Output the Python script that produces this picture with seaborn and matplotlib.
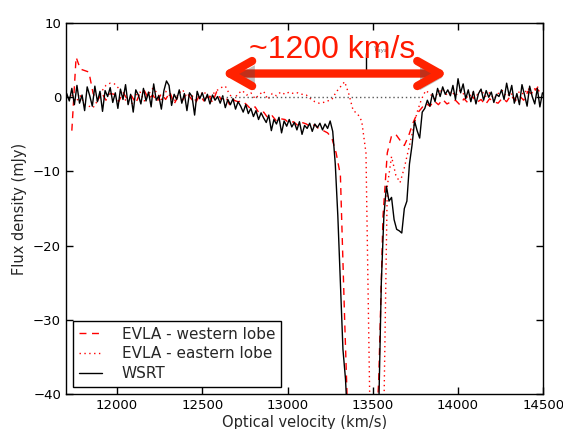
import numpy as np
import pandas as pd
import matplotlib
matplotlib.use('Agg')
import matplotlib.pyplot as plt
import matplotlib.patheffects as pe
import seaborn as sns

# WSRT spectrum, 15 km/s channels starting at 11705 km/s
wsrt_start, wsrt_step = 11705, 15
wsrt_flux = [
    0.5, -0.5, 1.2, -1.0, 1.6, -0.8, 0.3, -1.8, 1.4, 0.2,          # 11705
    -1.2, 1.5, -0.6, 0.8, -1.9, 0.9, 0.1, 1.3, -0.7, 0.6,          # 11855
    -1.5, 1.1, -0.3, 1.7, -1.0, 0.4, -2.0, 1.0, 0.3, -0.9,         # 12005
    1.2, -0.5, 0.7, -1.3, 1.8, -0.4, 0.2, -1.6, 0.9, 2.2,          # 12155
    1.6, -1.1, 0.4, -0.3, 1.0, -0.8, 0.5, -1.8, 0.6, 0.1,          # 12305
    -2.4, 0.8, -0.2, 0.6, -0.5, 0.4, -0.9, 0.3, -0.4, 0.1,         # 12455
    -0.8, 0.2, -1.4, -0.3, -1.0, -0.2, -1.6, -0.6, -1.2, -2.0,     # 12605
    -1.0, -2.2, -1.5, -2.6, -1.8, -3.0, -2.1, -2.8, -3.4, -2.4,    # 12755
    -4.5, -3.0, -3.6, -2.7, -4.8, -3.2, -3.9, -3.0, -4.0, -3.4,    # 12905
    -4.4, -3.3, -5.0, -3.8, -4.2, -3.5, -4.6, -3.6, -4.1, -3.5,    # 13055
    -4.4, -3.6, -4.2, -3.2, -4.6, -9.0, -16.0, -25.0, -34.0, -38.0,  # 13205
    -45.0, -48.0, -50.0, -50.0, -50.0, -50.0, -50.0, -50.0, -50.0, -50.0,  # 13355
    -50.0, -48.0, -42.0, -25.0, -16.0, -12.0, -14.0, -13.5, -16.5, -17.8,  # 13505
    -18.0, -18.3, -15.0, -14.0, -9.0, -6.5, -3.2, -4.5, -5.5, -2.0,  # 13655
    -1.5, -0.4, -1.2, 0.5, -0.6, 1.2, 0.1, 1.4, 0.4, 1.0,          # 13805
    0.2, 1.6, -0.3, 2.5, 0.6, 1.8, -0.2, 1.0, -0.6, 0.8,           # 13955
    -0.9, 0.5, 1.1, -0.4, 0.9, 0.0, 0.7, -0.7, 0.4, 0.1,           # 14105
    1.0, -0.3, 1.9, 0.2, 1.6, -0.8, 0.5, -1.0, 1.7, 0.3,           # 14255
    -1.2, 1.5, 0.1, -0.9, 1.2, -1.3, 0.6,                          # 14405
]

# EVLA spectra, 25 km/s channels
evla_start, evla_step = 11735, 25
evla_west = [
    -4.5, 5.4, 3.8, 3.6, 3.4, 0.5, -0.5, 0.6, -0.4, 0.5,           # 11735
    0.4, -0.6, 0.7, -0.3, 0.2, -0.8, 0.6, 0.9, -0.2, 0.3,          # 11985
    -0.6, 0.5, -0.3, 0.7, -0.9, 0.2, -0.4, 0.6, -0.2, -0.8,        # 12235
    0.3, -0.5, 0.4, -0.7, 0.8, -0.3, 0.2, -1.0, -0.4, -0.6,        # 12485
    -0.5, -1.0, -1.6, -1.3, -2.2, -2.0, -2.8, -2.5, -3.2, -2.9,    # 12735
    -3.0, -3.5, -3.3, -3.8, -3.4, -3.6, -4.0, -3.7, -4.3, -4.5,    # 12985
    -4.8, -5.5, -7.5, -10.5, -30.0, -48.0, -50.0, -50.0, -50.0, -50.0,  # 13235
    -50.0, -50.0, -38.0, -16.0, -7.5, -5.2, -5.0, -5.8, -6.5, -5.2,  # 13485
    -3.5, -2.2, -1.5, -0.8, -1.2, -0.5, -1.0, -0.3, -0.9, -0.6,    # 13735
    -0.4, -1.0, -0.2, -0.8, 0.1, -0.7, -0.3, -1.0, -0.2, -0.6,     # 13985
    -0.8, -0.1, -0.6, 0.3, -0.5, 0.2, -0.4, 0.8, 0.4, 1.2,         # 14235
    0.6,                                                           # 14485
]
evla_east = [
    0.3, -0.6, 0.2, -0.9, -1.2, -1.4, -0.5, 0.8, 1.6, 1.9,         # 11735
    1.8, 1.2, 0.2, -0.8, -1.0, 0.3, 0.7, -0.5, 0.4, 1.2,           # 11985
    0.6, -0.3, 0.8, 0.2, -0.6, 0.5, 1.0, 0.0, 0.4, -0.4,           # 12235
    0.3, 0.8, -0.2, 0.4, 0.9, 1.3, 1.5, 0.4, -0.3, 0.5,            # 12485
    0.9, 0.3, 0.6, -0.2, 0.4, 0.8, -0.3, 0.5, 0.2, 0.7,            # 12735
    0.4, 0.7, 0.5, 0.6, 0.4, 0.3, -0.2, -0.6, -0.8, -0.7,          # 12985
    -0.5, -0.3, 0.7, 1.4, 2.1, 0.4, -1.8, -2.2, -3.2, -7.5,        # 13235
    -45.0, -50.0, -50.0, -50.0, -12.0, -8.0, -10.5, -11.5, -9.5, -7.0,  # 13485
    -4.5, -2.0, -0.3, 0.9, 0.5, -0.2, 0.7, 1.1, 0.3, 0.8,          # 13735
    0.2, 0.9, 0.4, -0.1, 0.7, 0.3, 1.0, 0.1, 0.6, -0.2,            # 13985
    0.5, 0.9, 0.1, 0.6, -0.3, 0.8, 0.4, 1.2, 0.6, 1.5,             # 14235
    1.0,                                                           # 14485
]

labels = ['EVLA - western lobe', 'EVLA - eastern lobe', 'WSRT']
x_ticks = [12000, 12500, 13000, 13500, 14000, 14500]
y_ticks = [10, 0, -10, -20, -30, -40]
v_sys = 13459
zero_line = [12615, 13790]
arrow_span = [12612, 13941]
arrow_label = '~1200 km/s'

wsrt = pd.DataFrame({'vel': wsrt_start + wsrt_step * np.arange(len(wsrt_flux)),
                     'flux': wsrt_flux})
evla_vel = evla_start + evla_step * np.arange(len(evla_west))
evla = pd.DataFrame({'vel': evla_vel, 'west': evla_west, 'east': evla_east})

sns.set_style('ticks')
plt.rcParams['font.family'] = ['DejaVu Sans']

fig = plt.figure(figsize=(5.63, 4.29), dpi=100)
ax = fig.add_axes([0.117, 0.0816, 0.848, 0.8646])

sns.lineplot(data=evla, x='vel', y='west', ax=ax, color='red', lw=1.0,
             linestyle=(0, (5, 4)), label=labels[0], estimator=None, sort=False)
sns.lineplot(data=evla, x='vel', y='east', ax=ax, color='red', lw=1.0,
             linestyle=(0, (1, 2.5)), label=labels[1], estimator=None, sort=False)
sns.lineplot(data=wsrt, x='vel', y='flux', ax=ax, color='black', lw=1.0,
             label=labels[2], estimator=None, sort=False)

# zero reference and systemic velocity marker
ax.plot(zero_line, [0, 0], color='0.35', ls=(0, (1, 2)), lw=1)
ax.plot([v_sys, v_sys], [5.9, 3.0], color='black', lw=1, zorder=1)
ax.text(v_sys + 40, 6.3, r'$V_{sys}$', fontsize=5, color='0.3', va='center')

arr = ax.annotate('', xy=(arrow_span[1], 3.2), xytext=(arrow_span[0], 3.2),
                  arrowprops=dict(arrowstyle='<->,head_length=1.6,head_width=0.9',
                                  lw=6, color='#ff2200', shrinkA=0, shrinkB=0))
arr.arrow_patch.set_path_effects([pe.SimplePatchShadow(offset=(2, -3), alpha=0.35),
                                  pe.Normal()])
ax.text(12776, 5.25, arrow_label, fontsize=23, color='#ff1a00',
        family='Liberation Sans', ha='left', va='baseline')

ax.set_xlim(11700, 14500)
ax.set_ylim(-40, 10)
ax.set_xticks(x_ticks)
ax.set_yticks(y_ticks)
ax.tick_params(direction='in', top=True, right=True, length=5, width=1,
               labelsize=9.5, colors='black')
for s in ax.spines.values():
    s.set_color('black')
    s.set_linewidth(1)
ax.set_xlabel('Optical velocity (km/s)', fontsize=10.5, labelpad=2)
ax.set_ylabel('Flux density (mJy)', fontsize=10.5)

leg = ax.legend(loc='lower left', fontsize=11, handlelength=1.5,
                handletextpad=1.3, borderaxespad=0.45, fancybox=False,
                framealpha=1, edgecolor='black', labelspacing=0.3)
leg.get_frame().set_linewidth(1)

fig.savefig('out.png', dpi=100)
